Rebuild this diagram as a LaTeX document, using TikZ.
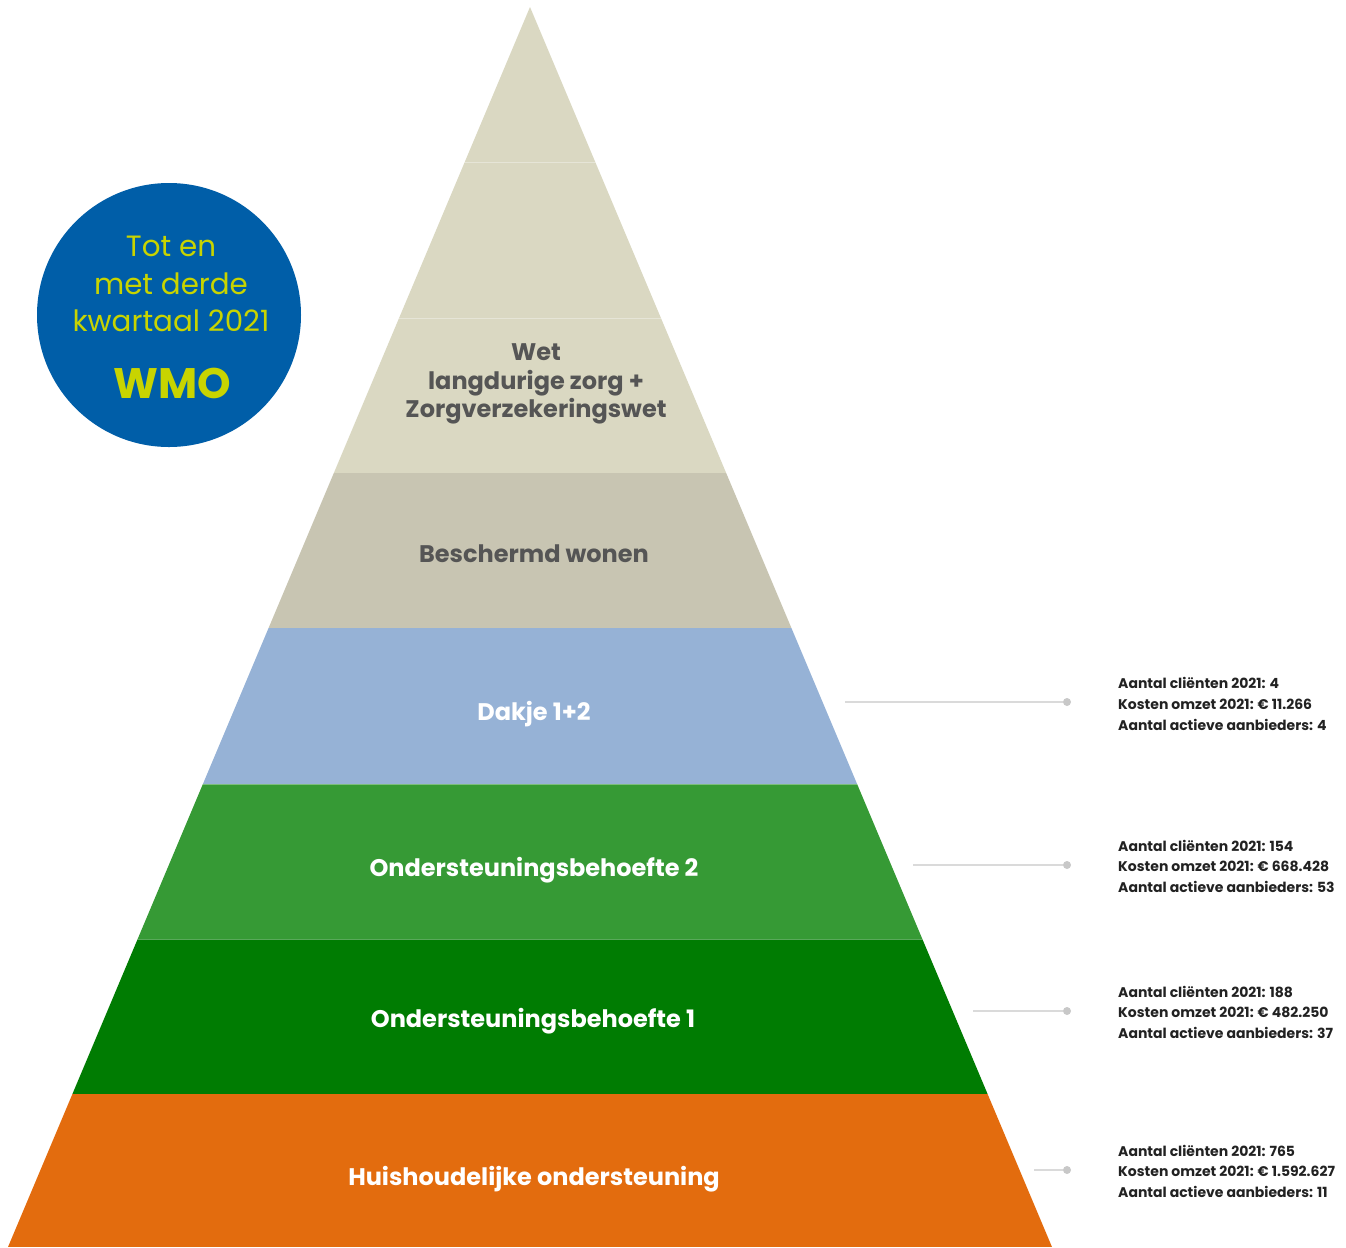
\documentclass[tikz,border=0pt]{standalone}
\usepackage{fontspec}
\setmainfont{Poppins}
\usetikzlibrary{positioning}

\definecolor{topbeige}{RGB}{218,216,194}
\definecolor{wonenbeige}{RGB}{200,197,178}
\definecolor{dakblue}{RGB}{150,178,214}
\definecolor{lightgreen}{RGB}{54,154,53}
\definecolor{darkgreen}{RGB}{0,124,2}
\definecolor{huisorange}{RGB}{227,108,14}
\definecolor{wmoblue}{RGB}{0,94,168}
\definecolor{wmoyellow}{RGB}{200,212,0}
\definecolor{labelgray}{RGB}{85,85,85}
\definecolor{linegray}{RGB}{218,218,218}
\definecolor{dotgray}{RGB}{200,200,200}
\definecolor{infoblack}{RGB}{34,34,34}

\tikzset{
  layerlabel/.style={font=\fontsize{18}{21.4}\selectfont\bfseries, align=center, text=white},
  graylabel/.style={layerlabel, text=labelgray},
  infotext/.style={font=\fontsize{10.5}{15.5}\selectfont\bfseries, align=left, text=infoblack, inner sep=0pt},
  dot/.style={circle, fill=dotgray, inner sep=0pt, minimum size=6pt},
  leader/.style={linegray, line width=1.5pt}
}

\begin{document}
\begin{tikzpicture}[x=0.75pt, y=-0.75pt]
      \useasboundingbox (0,0) rectangle (1346,1247);

      % pyramid layers
      \begin{scope}
        \clip (530,7) -- (1052,1247) -- (8,1247) -- cycle;
        \fill[topbeige] (0,0) rectangle (1346,473);
        \fill[wonenbeige] (0,473) rectangle (1346,628);
        \fill[dakblue] (0,628) rectangle (1346,784);
        \fill[lightgreen] (0,784) rectangle (1346,939);
        \fill[darkgreen] (0,939) rectangle (1346,1094);
        \fill[huisorange] (0,1094) rectangle (1346,1247);
        \draw[white, opacity=0.35, line width=0.75pt] (0,162) -- (1346,162) (0,318) -- (1346,318)
          (0,784) -- (1346,784) (0,939) -- (1346,939);
      \end{scope}

      \node[graylabel] (wlz) at (536,384) {Wet\\langdurige zorg +\\Zorgverzekeringswet};
      \node[graylabel] (bw) at (534,554) {Beschermd wonen};
      \node[layerlabel] (dak) at (534,714) {Dakje 1+2};
      \node[layerlabel] (ob2) at (534,870) {Ondersteuningsbehoefte 2};
      \node[layerlabel] (ob1) at (533,1021) {Ondersteuningsbehoefte 1};
      \node[layerlabel] (ho) at (534,1179) {Huishoudelijke ondersteuning};

      % badge
      \node[circle, fill=wmoblue, minimum size=198pt, inner sep=0pt] (badge) at (169,315) {};
      \node[font=\fontsize{22}{28}\selectfont, text=wmoyellow, align=center] (period) at (171,284) {Tot en\\met derde\\kwartaal 2021};
      \node[font=\fontsize{32}{32}\selectfont\bfseries, text=wmoyellow] (wmo) at (172,383) {WMO};

      % figures per layer
      \coordinate (cdak) at (845,702);
      \node[dot] (ddak) at (1067,702) {};
      \node[infotext, right=35pt of ddak, yshift=-1.5pt] (idak) {Aantal cliënten 2021: 4\\Kosten omzet 2021: € 11.266\\Aantal actieve aanbieders: 4};
      \draw[leader] (cdak) -- (ddak);

      \coordinate (cob2) at (913,865);
      \node[dot] (dob2) at (1067,865) {};
      \node[infotext, right=35pt of dob2, yshift=-1pt] (iob2) {Aantal cliënten 2021: 154\\Kosten omzet 2021: € 668.428\\Aantal actieve aanbieders: 53};
      \draw[leader] (cob2) -- (dob2);

      \coordinate (cob1) at (973,1011);
      \node[dot] (dob1) at (1067,1011) {};
      \node[infotext, right=35pt of dob1, yshift=-1pt] (iob1) {Aantal cliënten 2021: 188\\Kosten omzet 2021: € 482.250\\Aantal actieve aanbieders: 37};
      \draw[leader] (cob1) -- (dob1);

      \coordinate (cho) at (1034,1170);
      \node[dot] (dho) at (1067,1170) {};
      \node[infotext, right=35pt of dho, yshift=-1pt] (iho) {Aantal cliënten 2021: 765\\Kosten omzet 2021: € 1.592.627\\Aantal actieve aanbieders: 11};
      \draw[leader] (cho) -- (dho);
    \end{tikzpicture}
\end{document}
